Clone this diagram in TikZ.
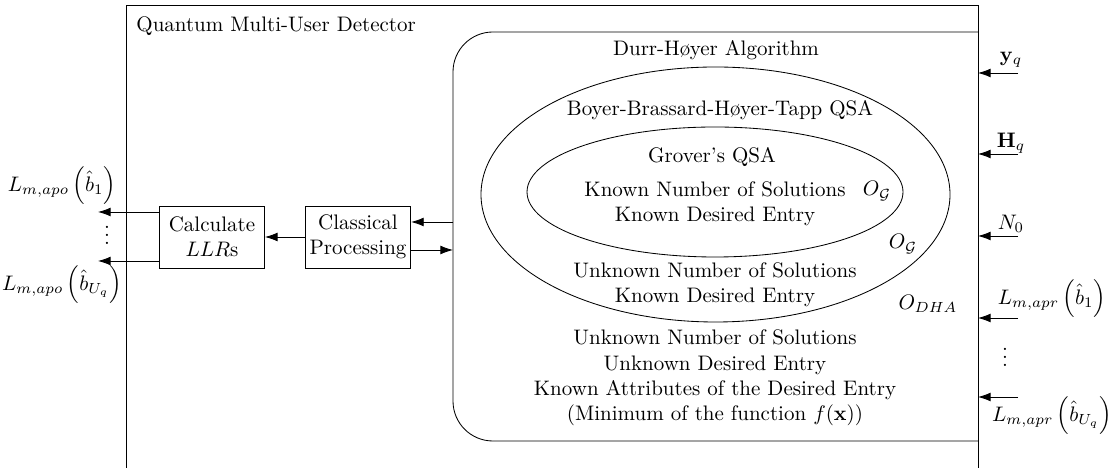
\documentclass[tikz,border=0pt]{standalone}
\usepackage{amsmath}
\usetikzlibrary{arrows.meta, positioning}

\begin{document}
\begin{tikzpicture}[x=0.476pt,y=-0.476pt,>={Latex[length=6pt,width=4.2pt]},node distance=69.5pt,on grid]
    \useasboundingbox (0,0) rectangle (1114,468);
    \tikzset{block/.style={draw,align=center,minimum width=50pt,minimum height=29.5pt,inner sep=2pt}}
    \tikzset{mystyle/.style={->}}

    % frames
    \draw (126,468) -- (126,5) -- (978,5) -- (978,468);
    \draw[rounded corners=19pt] (978,32) -- (453,32) -- (453,441) -- (978,441);
    \draw (715.5,194.5) ellipse [x radius=234.5, y radius=127.5];
    \draw (715,192) ellipse [x radius=188, y radius=65];

    \node[anchor=west] (qmud) at (129,26) {Quantum Multi-User Detector};
    \node (dha) at (716,50) {Durr-H{\o}yer Algorithm};
    \node (bbht) at (720,110) {Boyer-Brassard-H{\o}yer-Tapp QSA};
    \node (grover) at (712,157) {Grover's QSA};
    \node[align=center] (known) at (715,204) {Known Number of Solutions\\Known Desired Entry};
    \node (og1) at (877,191) {$O_{\mathcal{G}}$};
    \node (og2) at (903,244) {$O_{\mathcal{G}}$};
    \node[align=center] (unk1) at (715,285) {Unknown Number of Solutions\\Known Desired Entry};
    \node (odha) at (928,304) {$O_{DHA}$};
    \node[align=center] (unk2) at (715,378) {Unknown Number of Solutions\\Unknown Desired Entry\\Known Attributes of the Desired Entry\\(Minimum of the function $f(\mathbf{x})$)};

    \node[block] (calc) at (212,237) {Calculate\\$LLR$s};
    \node[block] (proc) [right=of calc] {Classical\\Processing};

    \coordinate (dhain) at (453,222);
    \coordinate (dhaout) at (453,250);
    \draw[mystyle] (dhain) -- (proc.east |- dhain);
    \draw[mystyle] (proc.east |- dhaout) -- (dhaout);
    \draw[mystyle] (proc) -- (calc);

    % soft outputs
    \coordinate (o1) at (98,212);
    \coordinate (o2) at (98,261);
    \draw[mystyle] (calc.west |- o1) -- (o1);
    \draw[mystyle] (calc.west |- o2) -- (o2);
    \node (odots) at (107,229) {$\vdots$};
    \node (out1) at (62,186) {$L_{m,apo}\left(\hat{b}_1\right)$};
    \node (out2) at (62,285) {$L_{m,apo}\left(\hat{b}_{U_q}\right)$};

    % inputs
    \foreach \name/\ypos in {yq/73, hq/154, nz/236, la/318, lb/397} {
        \coordinate (\name) at (1018,\ypos);
        \coordinate (\name end) at (978,\ypos);
        \draw[mystyle] (\name) -- (\name end);
    }
    \node (yqlab) at (1011,60) {$\mathbf{y}_q$};
    \node (hqlab) at (1011,143) {$\mathbf{H}_q$};
    \node (nzlab) at (1011,224) {$N_0$};
    \node (lalab) at (1052,299) {$L_{m,apr}\left(\hat{b}_1\right)$};
    \node (idots) at (1005,351) {$\vdots$};
    \node (lblab) at (1052,416) {$L_{m,apr}\left(\hat{b}_{U_q}\right)$};
\end{tikzpicture}
\end{document}
